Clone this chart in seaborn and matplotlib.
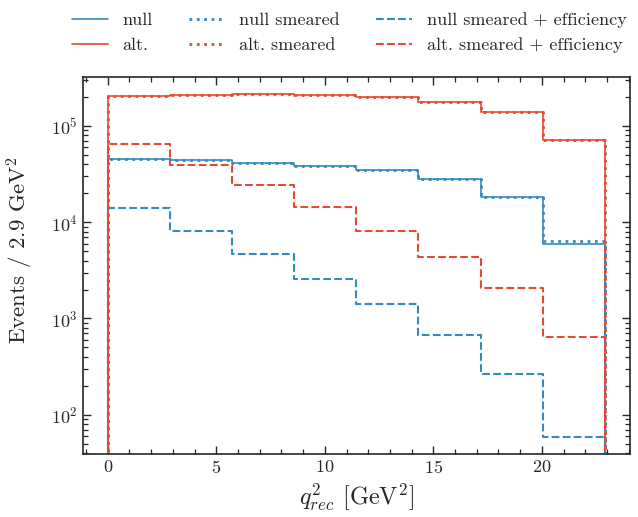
import numpy as np
import pandas as pd
import matplotlib
matplotlib.use("Agg")
import matplotlib.pyplot as plt
from matplotlib.ticker import MultipleLocator, LogLocator
import seaborn as sns

# bin edges in q^2 [GeV^2]
edges = list(np.linspace(0.0, 22.9, 9))

# events per bin
null = [4.50e4, 4.43e4, 4.15e4, 3.83e4, 3.46e4, 2.79e4, 1.82e4, 5.98e3]
alt = [2.05e5, 2.10e5, 2.14e5, 2.12e5, 2.00e5, 1.79e5, 1.41e5, 7.15e4]
null_smeared = [4.50e4, 4.43e4, 4.15e4, 3.83e4, 3.46e4, 2.79e4, 1.82e4, 6.37e3]
alt_smeared = [2.05e5, 2.10e5, 2.14e5, 2.12e5, 2.00e5, 1.79e5, 1.41e5, 7.15e4]
null_eff = [1.42e4, 8.2e3, 4.7e3, 2.57e3, 1.41e3, 6.7e2, 2.65e2, 59]
alt_eff = [6.45e4, 3.93e4, 2.41e4, 1.43e4, 8.1e3, 4.4e3, 2.06e3, 6.4e2]

blue = "#348ABD"
red = "#E24A33"

series = [
    ("null", null, blue, "-", 1.2),
    ("alt.", alt, red, "-", 1.2),
    ("null smeared", null_smeared, blue, ":", 2.0),
    ("alt. smeared", alt_smeared, red, ":", 2.0),
    ("null smeared + efficiency", null_eff, blue, "--", 1.5),
    ("alt. smeared + efficiency", alt_eff, red, "--", 1.5),
]

sns.set_style("ticks")
plt.rcParams["font.family"] = "serif"
plt.rcParams["font.serif"] = ["cmr10", "DejaVu Serif"]
plt.rcParams["mathtext.fontset"] = "cm"
plt.rcParams["axes.formatter.use_mathtext"] = True
plt.rcParams["axes.unicode_minus"] = False

fig = plt.figure(figsize=(6.38, 5.17), dpi=100)
ax = fig.add_axes([0.130, 0.122, 0.857, 0.729])
ax.set_yscale("log")

# empty bins just outside the range so the step outline closes down to the axis
eps = 1e-6
edges_p = [edges[0] - eps] + edges + [edges[-1] + eps]
centers_p = [0.5 * (a + b) for a, b in zip(edges_p[:-1], edges_p[1:])]

for label, vals, color, ls, lw in series:
    df = pd.DataFrame({"q2": centers_p, "w": [0.0] + list(vals) + [0.0]})
    sns.histplot(data=df, x="q2", weights="w", bins=edges_p, element="step", fill=False,
                 color=color, linestyle=ls, linewidth=lw, label=label, ax=ax)

# log autoscale with 5% margins, ignoring the closing edges at zero
allv = np.concatenate([np.asarray(s[1], float) for s in series])
lo, hi = np.log10(allv.min()), np.log10(allv.max())
pad = 0.05 * (hi - lo)
ax.set_ylim(10 ** (lo - pad), 10 ** (hi + pad))
xpad = 0.05 * (edges[-1] - edges[0])
ax.set_xlim(edges[0] - xpad, edges[-1] + xpad)

ax.xaxis.set_minor_locator(MultipleLocator(1))
ax.yaxis.set_minor_locator(LogLocator(base=10, subs=np.arange(2, 10)))
ax.tick_params(which="both", direction="in", top=True, right=True, labelsize=13)
ax.tick_params(which="major", length=6, width=1.0)
ax.tick_params(which="minor", length=3.5, width=0.9)
for sp in ax.spines.values():
    sp.set_linewidth(1.2)

ax.set_xlabel(r"$q^2_{rec}$ [GeV$^2$]", fontsize=17.5)
ax.set_ylabel(r"Events / 2.9 GeV$^2$", fontsize=16.5)
ax.yaxis.set_label_coords(-0.087, 0.54)

ax.legend(loc="lower center", bbox_to_anchor=(0.487, 1.02), ncol=3, frameon=False,
          fontsize=13, handlelength=2.0, columnspacing=2.0, borderaxespad=0.5)

fig.savefig("out.png", dpi=100)
